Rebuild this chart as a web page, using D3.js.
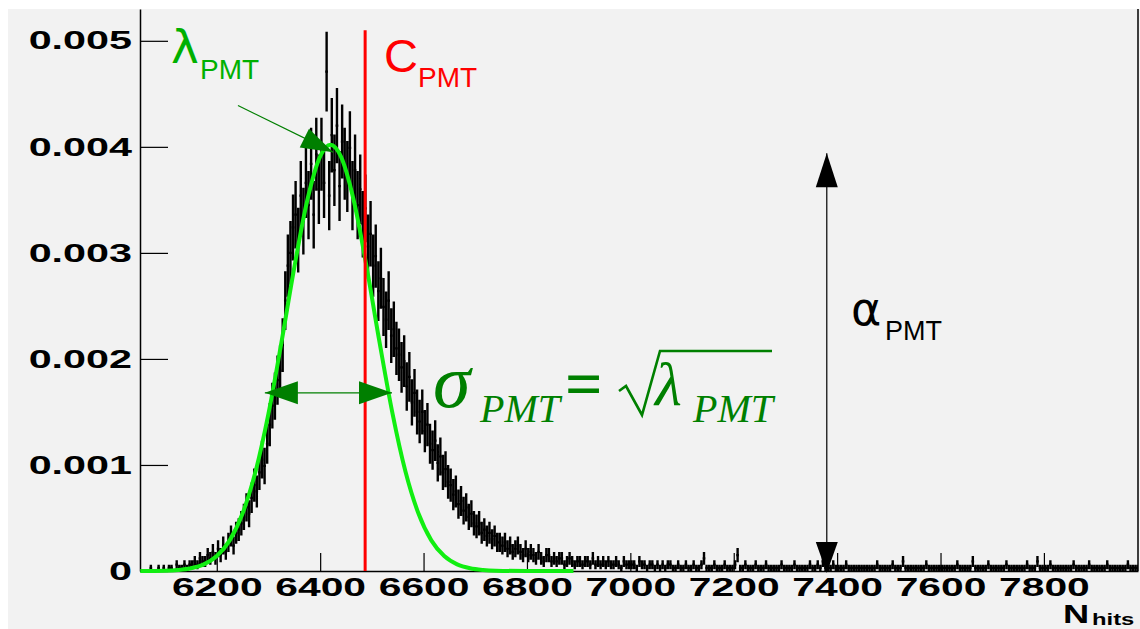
<!DOCTYPE html>
<html><head><meta charset="utf-8">
<script src="https://cdn.jsdelivr.net/npm/d3@7"></script>
<style>body{margin:0;background:#fff}svg{display:block}</style>
</head><body>
<svg id="c" width="1140" height="629"></svg>
<script>
// ---- data ----
const binStart = 6050;
const binWidth = 5;
const countUnit = 0.00003; // density of one entry per bin
const counts = [
0,0,0,0,1,0,0,1,0,1,
0,1,1,0,2,1,1,2,1,2,
2,3,2,4,3,3,5,4,6,4,
7,5,8,6,9,11,8,12,13,15,
17,20,18,23,27,25,31,35,33,40,
46,52,55,60,63,71,85,96,100,108,
112,104,118,110,122,115,128,112,131,120,
131,122,157,118,137,126,140,121,135,128,
124,133,118,126,115,120,109,114,102,106,
96,99,88,92,83,79,85,74,76,70,
68,64,66,58,61,53,56,50,47,50,
44,46,40,38,41,34,36,31,32,28,
27,24,25,21,22,19,20,17,18,15,
14,15,12,13,11,12,10,11,9,9,
8,9,7,8,6,7,8,6,5,7,
5,6,5,4,6,4,3,5,5,3,
4,3,4,4,2,3,4,3,2,3,
3,2,3,3,2,4,2,3,2,3,
2,3,2,2,3,2,1,3,2,2,
2,2,1,3,2,2,1,2,2,1,
2,1,2,1,2,2,1,1,2,1,
1,2,1,1,2,1,1,2,4,1,
1,1,2,1,1,1,2,1,1,1,
2,5,1,1,2,1,1,1,2,1,
1,1,2,1,1,1,1,1,2,1,
1,1,1,2,1,1,1,1,1,2,
1,1,2,1,3,1,1,1,2,1,
1,1,1,2,1,1,1,1,1,1,
1,1,1,1,1,2,1,1,1,1,
1,2,1,1,1,3,1,1,1,1,
1,1,1,1,2,1,1,1,1,1,
1,1,1,1,1,1,2,1,1,1,
1,1,3,1,1,1,1,1,2,1,
1,1,1,1,1,2,1,1,1,1,
1,1,1,2,1,1,1,3,1,1,
1,1,2,1,1,1,1,1,1,1,
1,2,1,1,1,1,1,2,1,1,
1,1,1,1,2,1,1,1,1,1,
1,1,2,1,1,1,1
];
const fitX = [6052,6100,6125,6150,6175,6200,6225,6250,6275,6300,6325,6350,6375,6400,6420,6440,6465,6490,6515,6540,6565,6590,6615,6640,6665,6690,6715,6740,6800,6890];
const fitY = [0,0.0000034,0.0000098,0.0000259,0.000063,0.000141,0.000289,0.000544,0.000938,0.001484,0.002153,0.002864,0.003494,0.00391,0.00402,0.00391,0.003494,0.002864,0.002153,0.001484,0.000938,0.000544,0.000289,0.000141,0.000063,0.0000259,0.0000098,0.0000034,0,0];
const xTicks = [6200,6400,6600,6800,7000,7200,7400,7600,7800];
const xTickLabels = ["6200","6400","6600","6800","7000","7200","7400","7600","7800"];
const yTicks = [0,0.001,0.002,0.003,0.004,0.005];
const yTickLabels = ["0","0.001","0.002","0.003","0.004","0.005"];
const cPMT = 6487;
const cLineTop = 0.0051;
const lambdaArrow = [[6241,0.00439],[6425,0.00395]];
const sigmaArrow = [[6293,0.00168],[6539,0.00168]];
const alphaArrow = [[7380,0.00394],[7380,0]];

// ---- drawing ----
const svg = d3.select('#c');
svg.append('rect').attr('x',8).attr('y',9).attr('width',1132).attr('height',620).attr('fill','#f2f2f2');

const x = d3.scaleLinear().domain([6051.5, 7982]).range([140, 1138]);
const y = d3.scaleLinear().domain([0, 0.0053]).range([571, 9]);

svg.append('clipPath').attr('id','clip').append('rect')
  .attr('x',140).attr('y',9).attr('width',998).attr('height',562);

// histogram drawn with Poisson error bars
const ph = d3.path(), pv = d3.path();
counts.forEach((n,i)=>{
  if(n<=0) return;
  const b0 = binStart + i*binWidth, b1 = b0 + binWidth;
  const v = n*countUnit, e = Math.sqrt(n)*countUnit;
  ph.moveTo(x(b0), y(v)); ph.lineTo(x(b1), y(v));
  const xc = x(b0 + binWidth/2);
  pv.moveTo(xc, y(v - e)); pv.lineTo(xc, y(v + e));
});
const hg = svg.append('g').attr('clip-path','url(#clip)');
hg.append('path').attr('d', ph.toString()).attr('fill','none').attr('stroke','#000').attr('stroke-width',2.2);
hg.append('path').attr('d', pv.toString()).attr('fill','none').attr('stroke','#000').attr('stroke-width',2.4);

// axes
const fontSans = "'Liberation Sans', Arial, Helvetica, sans-serif";
const yMinor = d3.range(0, 0.00531, 0.0002).filter(v => !yTicks.some(t => Math.abs(t - v) < 1e-9));
const xMinor = d3.range(6100, 7990, 50).filter(v => !xTicks.includes(v));

const gy = svg.append('g').attr('transform','translate(140,0)');
gy.call(d3.axisLeft(y).tickValues(yMinor).tickSize(-15).tickSizeOuter(0).tickFormat(''));
gy.call(d3.axisLeft(y).tickValues(yTicks).tickSize(-28).tickSizeOuter(0).tickPadding(8)
  .tickFormat((d,i)=>yTickLabels[i]));
gy.selectAll('text').attr('x',null).attr('transform','translate(-8,0) scale(1.62,1)')
  .style('font-family',fontSans).style('font-weight','bold').style('font-size','25.5px').attr('fill','#000');

const gx = svg.append('g').attr('transform','translate(0,571)');
gx.call(d3.axisBottom(x).tickValues(xMinor).tickSize(-9).tickSizeOuter(0).tickFormat(''));
gx.call(d3.axisBottom(x).tickValues(xTicks).tickSize(-18).tickSizeOuter(0).tickPadding(7)
  .tickFormat((d,i)=>xTickLabels[i]));
gx.selectAll('text').attr('transform','scale(1.6,1)')
  .style('font-family',fontSans).style('font-weight','bold').style('font-size','25.5px').attr('fill','#000');
svg.selectAll('.domain').attr('stroke','#000').attr('stroke-width',1.5);
svg.selectAll('.tick line').attr('stroke','#000').attr('stroke-width',1.2);
svg.append('line').attr('x1',1138).attr('x2',1138).attr('y1',9).attr('y2',571).attr('stroke','#000').attr('stroke-width',1.5);

// axis title
svg.append('text').attr('x',1063).attr('y',623).attr('transform','translate(1063,0) scale(1.45,1) translate(-1063,0)')
  .style('font-family',fontSans).style('font-weight','bold').style('font-size','25px').text('N');
svg.append('text').attr('x',1092).attr('y',625).attr('transform','translate(1092,0) scale(1.4,1) translate(-1092,0)')
  .style('font-family',fontSans).style('font-weight','bold').style('font-size','17px').text('hits');

// fit curve
svg.append('path').datum(fitX.map((d,i)=>[d, fitY[i]]))
  .attr('d', d3.line().x(d=>x(d[0])).y(d=>y(d[1])).curve(d3.curveMonotoneX))
  .attr('fill','none').attr('stroke','#11ee11').attr('stroke-width',4);

// C_PMT line
svg.append('line').attr('x1',x(cPMT)).attr('x2',x(cPMT)).attr('y1',y(cLineTop)).attr('y2',y(0))
  .attr('stroke','#ff0000').attr('stroke-width',3);

function head(g, tip, from, len, hw, color){
  const dx = tip[0]-from[0], dy = tip[1]-from[1], L = Math.hypot(dx,dy);
  const ux = dx/L, uy = dy/L;
  const bx = tip[0]-ux*len, by = tip[1]-uy*len;
  g.append('polygon').attr('points', [[tip[0],tip[1]],[bx-uy*hw,by+ux*hw],[bx+uy*hw,by-ux*hw]].map(q=>q.join(',')).join(' '))
    .attr('fill',color);
}
const ann = svg.append('g');
{
  const a = lambdaArrow.map(d=>[x(d[0]),y(d[1])]);
  ann.append('line').attr('x1',a[0][0]).attr('y1',a[0][1]).attr('x2',a[1][0]).attr('y2',a[1][1])
    .attr('stroke','#007f00').attr('stroke-width',1.2);
  head(ann, a[1], a[0], 32, 10.5, '#007f00');
}
{
  const a = sigmaArrow.map(d=>[x(d[0]),y(d[1])]);
  ann.append('line').attr('x1',a[0][0]).attr('y1',a[0][1]).attr('x2',a[1][0]).attr('y2',a[1][1])
    .attr('stroke','#007f00').attr('stroke-width',1.2);
  head(ann, a[0], a[1], 33, 11.5, '#007f00');
  head(ann, a[1], a[0], 33, 11.5, '#007f00');
}
{
  const a = alphaArrow.map(d=>[x(d[0]),y(d[1])]);
  ann.append('line').attr('x1',a[0][0]).attr('y1',a[0][1]).attr('x2',a[1][0]).attr('y2',a[1][1])
    .attr('stroke','#000').attr('stroke-width',1.2);
  head(ann, a[0], a[1], 34, 11, '#000');
  head(ann, [a[1][0], a[1][1]+2], a[0], 31, 11, '#000');
}

// labels
const lab = (t, xx, yy, size, color, fam, extra) => {
  const e = svg.append('text').attr('x',xx).attr('y',yy).style('font-size',size+'px')
    .style('font-family',fam).attr('fill',color).text(t);
  if(extra) extra(e);
  return e;
};
const dejavu = "'DejaVu Sans', sans-serif";
const serif = "'Liberation Serif', 'Times New Roman', serif";
lab('λ', 171, 63, 47, '#00b000', dejavu);
lab('PMT', 200, 79, 28, '#00b000', fontSans);
lab('C', 384, 72, 47, '#ff0000', fontSans);
lab('PMT', 418, 87, 28, '#ff0000', fontSans);
lab('α', 851, 325, 46, '#000', dejavu);
lab('PMT', 885, 340, 27, '#000', fontSans);

const fg = '#008000';
lab('σ', 433, 407, 76, fg, serif, e=>e.style('font-style','italic'));
lab('PMT', 480, 422, 40, fg, serif, e=>e.style('font-style','italic'));
lab('=', 565, 406, 66, fg, serif, e=>e.style('font-weight','bold'));
svg.append('path').attr('d','M619,391 L626,386 L642,415 L660,351 L772,351')
  .attr('fill','none').attr('stroke',fg).attr('stroke-width',2.6).attr('stroke-linejoin','miter');
lab('λ', 655, 405, 62, fg, serif, e=>e.style('font-style','italic'));
lab('PMT', 693, 422, 40, fg, serif, e=>e.style('font-style','italic'));
</script>
</body></html>
